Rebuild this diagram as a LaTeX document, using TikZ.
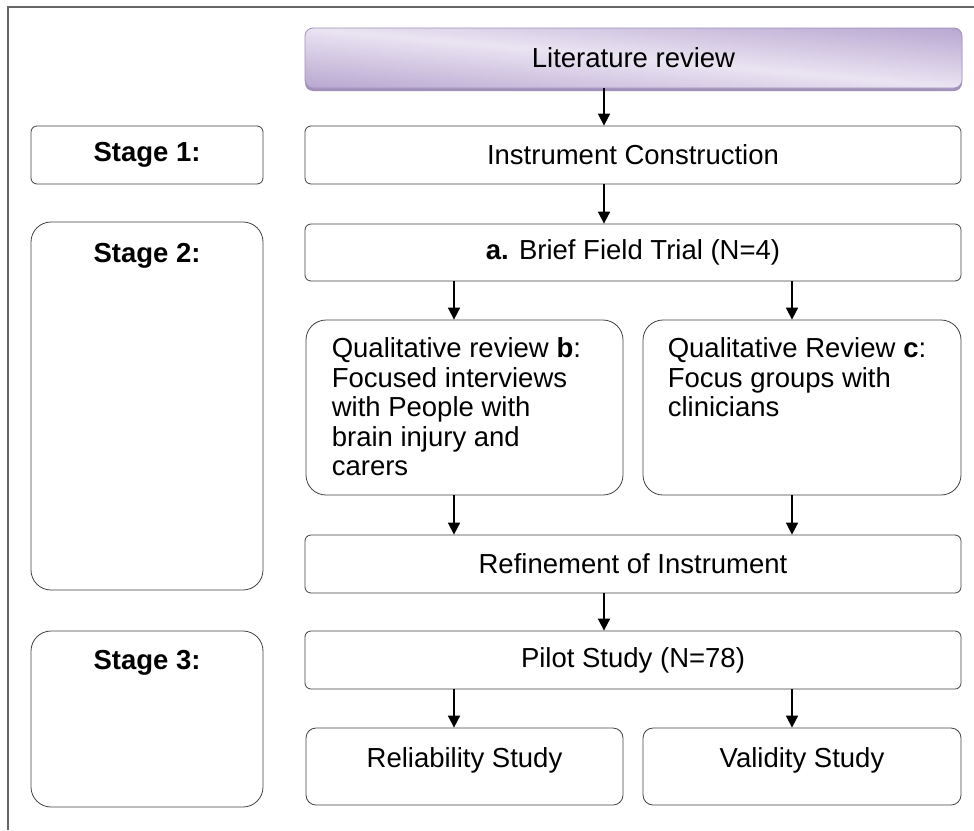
\documentclass[tikz,border=0pt]{standalone}
\usepackage{fontspec}
\setmainfont{Liberation Sans}
\usetikzlibrary{arrows.meta,shadows}

\definecolor{lavlight}{RGB}{234,228,242}
\definecolor{lavdark}{RGB}{176,156,203}
\definecolor{lavedge}{RGB}{160,144,186}
\pgfdeclareverticalshading{lavband}{100bp}{color(0bp)=(lavdark); color(45bp)=(lavdark);
  color(50bp)=(lavlight); color(55bp)=(lavdark); color(100bp)=(lavdark)}

\begin{document}
\begin{tikzpicture}[x=1pt,y=-1pt,
  box/.style={draw=black!75, line width=0.8pt, rectangle, rounded corners=6pt, inner sep=0pt,
    font=\fontsize{27.5}{29.5}\selectfont},
  bigbox/.style={box, rounded corners=20pt},
  midbox/.style={box, rounded corners=10pt},
  lbl/.style={inner sep=0pt, font=\fontsize{27.5}{29.5}\selectfont\bfseries},
  txt/.style={inner sep=0pt, align=left, font=\fontsize{27.5}{29.5}\selectfont},
  arr/.style={line width=1.7pt, -{Triangle[width=12pt,length=12pt]}}]
\useasboundingbox (0,0) rectangle (974,830);
% outer frame (cut off at right and bottom)
\draw[black!60, line width=1.2pt] (974,7) -- (8,7) -- (8,830);

% main column
\node[box, draw=lavedge, rounded corners=8pt, general shadow={fill=lavedge, shadow yshift=-3pt},
  fill=lavlight,
  path picture={\shade[shading=lavband, shading angle=-5.2]
    ([xshift=-350pt,yshift=-350pt]path picture bounding box.center) rectangle
    ([xshift=350pt,yshift=350pt]path picture bounding box.center);},
  minimum width=657pt, minimum height=60pt] (lit) at (633.5,58) {Literature review};
\node[box, minimum width=656pt, minimum height=58pt] (inst) at (633,155) {Instrument Construction};
\node[box, minimum width=656pt, minimum height=57pt] (trial) at (633,252.5) {\textbf{a.} Brief Field Trial (N=4)};
\node[bigbox, minimum width=317pt, minimum height=175pt] (qb) at (464.5,407.5) {};
\node[bigbox, minimum width=318pt, minimum height=175pt] (qc) at (802,407.5) {};
\node[box, minimum width=656pt, minimum height=58pt] (ref) at (633,564) {Refinement of Instrument};
\node[box, minimum width=656pt, minimum height=58pt] (pilot) at (633,660) {Pilot Study (N=78)};
\node[midbox, minimum width=317pt, minimum height=77pt] (rel) at (464.5,766.5) {};
\node[midbox, minimum width=318pt, minimum height=77pt] (val) at (802,766.5) {};

\node[txt, anchor=north west] (qbt) at ([xshift=26pt,yshift=-18pt]qb.north west)
  {Qualitative review \textbf{b}:\\Focused interviews\\with People with\\brain injury and\\carers};
\node[txt, anchor=north west] (qct) at ([xshift=25pt,yshift=-18pt]qc.north west)
  {Qualitative Review \textbf{c}:\\Focus groups with\\clinicians};
\node[txt, anchor=base] (relt) at ([yshift=-40pt]rel.north) {Reliability Study};
\node[txt, anchor=base] (valt) at ([yshift=-40pt]val.north) {Validity Study};

% stages
\node[box, font=\fontsize{27.5}{29.5}\selectfont\bfseries, minimum width=232pt, minimum height=58pt] (s1) at (147,155) {Stage 1:};
\node[bigbox, minimum width=232pt, minimum height=368pt] (s2) at (147,406) {};
\node[bigbox, minimum width=232pt, minimum height=176pt] (s3) at (147,719) {};
\node[lbl, anchor=base] (s2t) at ([yshift=-41pt]s2.north) {Stage 2:};
\node[lbl, anchor=base] (s3t) at ([yshift=-39pt]s3.north) {Stage 3:};

% arrows
\coordinate (spine) at (604,0);
\coordinate (lftx) at (454,0);
\coordinate (rgtx) at (792,0);
\draw[arr] (lit.south -| spine) -- (inst.north -| spine);
\draw[arr] (inst.south -| spine) -- (trial.north -| spine);
\draw[arr] (trial.south -| lftx) -- (qb.north -| lftx);
\draw[arr] (trial.south -| rgtx) -- (qc.north -| rgtx);
\draw[arr] (qb.south -| lftx) -- (ref.north -| lftx);
\draw[arr] (qc.south -| rgtx) -- (ref.north -| rgtx);
\draw[arr] (ref.south -| spine) -- (pilot.north -| spine);
\draw[arr] (pilot.south -| lftx) -- (rel.north -| lftx);
\draw[arr] (pilot.south -| rgtx) -- (val.north -| rgtx);
\end{tikzpicture}
\end{document}
